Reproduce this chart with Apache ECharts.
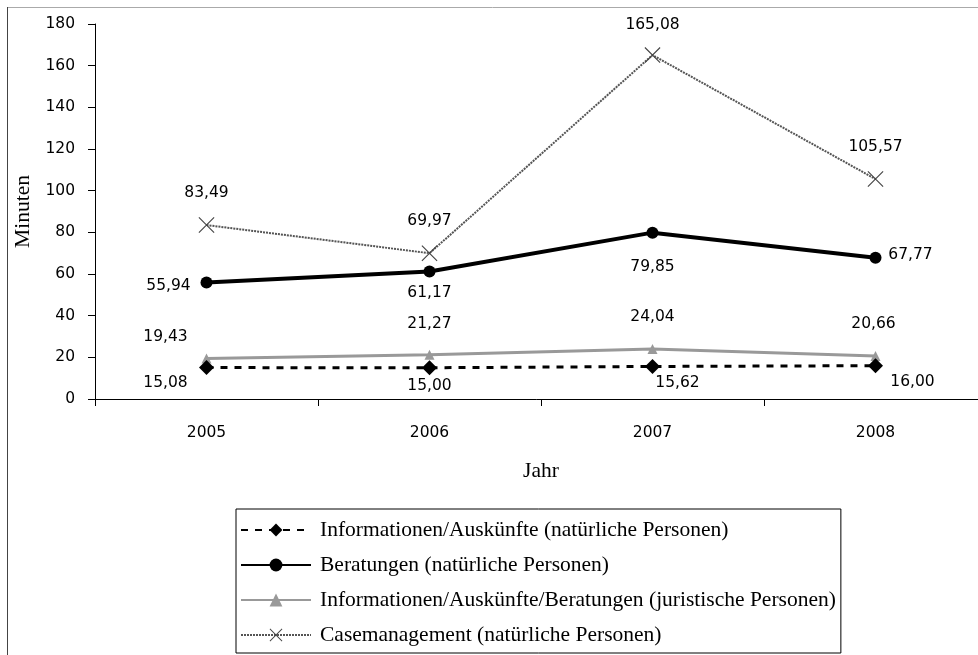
<!DOCTYPE html>
<html>
<head>
<meta charset="utf-8">
<script src="https://cdn.jsdelivr.net/npm/echarts@6/dist/echarts.min.js"></script>
<style>
  html, body { margin: 0; padding: 0; background: #fff; }
  #chart { width: 978px; height: 655px; }
</style>
</head>
<body>
<div id="chart"></div>
<script>
// Years on the category axis
const years = ['2005', '2006', '2007', '2008'];

// Average minutes per case type
const infoNatural = [15.08, 15.00, 15.62, 16.00];
const beratungNatural = [55.94, 61.17, 79.85, 67.77];
const infoBeratungJuristisch = [19.43, 21.27, 24.04, 20.66];
const caseManagement = [83.49, 69.97, 165.08, 105.57];

// Series names shown in the legend
const seriesNames = [
  'Informationen/Auskünfte (natürliche Personen)',
  'Beratungen (natürliche Personen)',
  'Informationen/Auskünfte/Beratungen (juristische Personen)',
  'Casemanagement (natürliche Personen)'
];

// Value-label placement around each point: [dx, dy] in pixels
const infoOffsets = [[-41, 15], [0, 18], [25, 17], [37, 16]];
const beratungOffsets = [[-38, 4], [0, 21], [0, 34], [35, -3]];
const juristOffsets = [[-41, -22], [0, -31], [0, -32], [-2, -32]];
const caseOffsets = [[0, -32], [0, -32], [0, -30], [0, -32]];

const SERIF = '"Liberation Serif", "DejaVu Serif", serif';
const SANS = '"DejaVu Sans", "Noto Sans", sans-serif';
const NUM_SIZE = 15.5;
const TEXT_SIZE = 21.5;
const fmt = v => v.toFixed(2).replace('.', ',');

function withLabels(values, offsets) {
  return values.map((v, i) => ({
    value: v,
    label: {
      show: true,
      position: 'inside',
      offset: offsets[i],
      formatter: p => fmt(p.value),
      color: '#000',
      fontFamily: SANS,
      fontSize: NUM_SIZE
    }
  }));
}

const crossPath = 'path://M0,1 L1,0 L20,19 L19,20 Z M19,0 L20,1 L1,20 L0,19 Z';

const chart = echarts.init(document.getElementById('chart'), null, { renderer: 'canvas' });

chart.setOption({
  animation: false,
  backgroundColor: '#fff',
  textStyle: { fontFamily: SERIF, color: '#000' },
  // plot area runs past the right edge of the canvas
  grid: { left: 95, top: 24, bottom: 256, width: 892, containLabel: false, outerBoundsMode: 'none' },
  legend: {
    orient: 'vertical',
    left: 236,
    top: 509,
    padding: [10, 5, 7, 4],
    borderColor: '#000',
    borderWidth: 1,
    itemWidth: 70,
    itemHeight: 16,
    itemGap: 13,
    textStyle: { fontFamily: SERIF, fontSize: TEXT_SIZE, color: '#000', padding: [0, 0, 0, 4] },
    data: seriesNames
  },
  xAxis: {
    type: 'category',
    data: years,
    boundaryGap: true,
    name: 'Jahr',
    nameLocation: 'middle',
    nameGap: 61,
    nameTextStyle: { fontFamily: SERIF, fontSize: TEXT_SIZE, color: '#000' },
    axisLine: { lineStyle: { color: '#000', width: 1 } },
    axisTick: { show: true, length: 7, lineStyle: { color: '#000' } },
    axisLabel: { margin: 26, fontFamily: SANS, fontSize: NUM_SIZE, color: '#000' },
    splitLine: { show: false }
  },
  yAxis: {
    type: 'value',
    min: 0,
    max: 180,
    interval: 20,
    name: 'Minuten',
    nameLocation: 'middle',
    nameGap: 55,
    nameRotate: 90,
    nameTextStyle: { fontFamily: SERIF, fontSize: TEXT_SIZE, color: '#000' },
    axisLine: { show: true, lineStyle: { color: '#000', width: 1 } },
    axisTick: { show: true, length: 7, lineStyle: { color: '#000' } },
    axisLabel: { margin: 20, fontFamily: SANS, fontSize: NUM_SIZE, color: '#000' },
    splitLine: { show: false }
  },
  series: [
    {
      name: seriesNames[0],
      type: 'line',
      data: withLabels(infoNatural, infoOffsets),
      symbol: 'diamond',
      symbolSize: 15,
      itemStyle: { color: '#000' },
      lineStyle: { color: '#000', width: 3, type: [7, 7] },
      z: 4
    },
    {
      name: seriesNames[1],
      type: 'line',
      data: withLabels(beratungNatural, beratungOffsets),
      symbol: 'circle',
      symbolSize: 12,
      itemStyle: { color: '#000' },
      lineStyle: { color: '#000', width: 4 },
      z: 5
    },
    {
      name: seriesNames[2],
      type: 'line',
      data: withLabels(infoBeratungJuristisch, juristOffsets),
      symbol: 'triangle',
      symbolSize: 10,
      itemStyle: { color: '#999' },
      lineStyle: { color: '#999', width: 3 },
      z: 3
    },
    {
      name: seriesNames[3],
      type: 'line',
      data: withLabels(caseManagement, caseOffsets),
      symbol: crossPath,
      symbolSize: 16,
      itemStyle: { color: '#444' },
      lineStyle: { color: '#555', width: 2, type: [2, 1] },
      z: 6
    }
  ],
  graphic: [
    {
      type: 'line',
      shape: { x1: 7, y1: 7.5, x2: 978, y2: 7.5 },
      style: { stroke: '#aaa', lineWidth: 1 }
    },
    {
      type: 'line',
      shape: { x1: 7.5, y1: 7, x2: 7.5, y2: 655 },
      style: { stroke: '#444', lineWidth: 1 }
    }
  ]
});
</script>
</body>
</html>
